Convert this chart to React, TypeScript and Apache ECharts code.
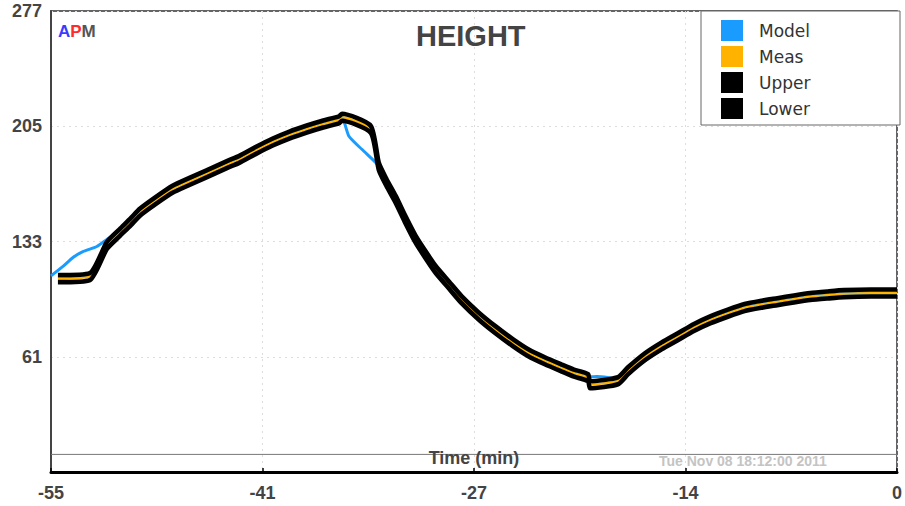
import React, { useEffect, useRef } from "react";
import * as echarts from "echarts";

// ---- data ----
const xTicks = [-55, -41, -27, -14, 0];
const yTicks = [-11, 61, 133, 205, 277];
const zeroLineTime = [-55, 0];
const zeroLineHeight = [0, 0];

const measTime = [
  -54.55, -52.47, -51.37, -50.53, -49.8, -49.23, -48.2, -47.1, -46.0, -44.89,
  -43.53, -42.76, -41.7, -40.62, -39.5, -38.42, -37.3, -36.28, -36.08, -34.21,
  -33.69, -33.2, -32.59, -31.95, -31.29, -30.6, -29.99, -29.1, -28.31, -27.2,
  -26.11, -25.0, -23.97, -22.9, -21.83, -21.0, -20.08, -19.95, -18.14, -17.49,
  -16.39, -15.3, -14.25, -13.2, -12.11, -11.0, -9.91, -8.8, -7.78, -6.7,
  -5.64, -4.5, -3.44, -1.7, 0,
];
const measHeight = [
  109.8, 111.1, 130.5, 138.6, 145.5, 151.2, 158.5, 165.6, 170.5, 175.2,
  181.2, 184.3, 189.8, 195.0, 199.5, 203.1, 206.4, 209.0, 210.6, 203.1,
  180.0, 170.0, 159.3, 146.5, 134.3, 124.0, 115.5, 105.5, 96.7, 86.5,
  77.9, 70.0, 63.5, 58.5, 54.1, 50.8, 47.9, 43.5, 46.0, 52.2,
  61.0, 67.8, 73.5, 79.3, 84.2, 88.2, 91.7, 93.8, 95.4, 97.1,
  98.6, 99.6, 100.4, 100.8, 100.8,
];
const upperHeight = [
  112.0, 113.3, 132.7, 140.8, 147.7, 153.4, 160.7, 167.8, 172.7, 177.4,
  183.4, 186.5, 192.0, 197.2, 201.7, 205.3, 208.6, 211.2, 212.8, 205.3,
  182.2, 172.2, 161.5, 148.7, 136.5, 126.2, 117.7, 107.7, 98.9, 88.7,
  80.1, 72.2, 65.7, 60.7, 56.3, 53.0, 50.1, 45.7, 48.2, 54.4,
  63.2, 70.0, 75.7, 81.5, 86.4, 90.4, 93.9, 96.0, 97.6, 99.3,
  100.8, 101.8, 102.6, 103.0, 103.0,
];
const lowerHeight = [
  107.6, 108.9, 128.3, 136.4, 143.3, 149.0, 156.3, 163.4, 168.3, 173.0,
  179.0, 182.1, 187.6, 192.8, 197.3, 200.9, 204.2, 206.8, 208.4, 200.9,
  177.8, 167.8, 157.1, 144.3, 132.1, 121.8, 113.3, 103.3, 94.5, 84.3,
  75.7, 67.8, 61.3, 56.3, 51.9, 48.6, 45.7, 41.3, 43.8, 50.0,
  58.8, 65.6, 71.3, 77.1, 82.0, 86.0, 89.5, 91.6, 93.2, 94.9,
  96.4, 97.4, 98.2, 98.6, 98.6,
];
const modelTime = [
  -55, -54.22, -53.57, -52.93, -52.02, -51.18, -50.53, -49.8, -49.23, -48.2,
  -47.1, -46.0, -44.89, -43.53, -42.76, -41.7, -40.62, -39.5, -38.42, -37.3,
  -36.28, -36.08, -35.63, -34.79, -33.88, -33.69, -33.2, -32.59, -31.95, -31.29,
  -30.6, -29.99, -29.1, -28.31, -27.2, -26.11, -25.0, -23.97, -22.9, -21.83,
  -21.0, -20.08, -19.5, -18.8, -18.14, -17.49, -16.39, -15.3, -14.25, -13.2,
  -12.11, -11.0, -9.91, -8.8, -7.78, -6.7, -5.64, -4.5, -3.44, -1.7, 0,
];
const modelHeight = [
  111.5, 117.4, 123.0, 126.7, 129.9, 135.5, 138.6, 145.5, 151.2, 158.5,
  165.6, 170.5, 175.2, 181.2, 184.3, 189.8, 195.0, 199.5, 203.1, 206.4,
  209.0, 210.6, 198.7, 190.6, 182.3, 180.0, 170.0, 159.3, 146.5, 134.3,
  124.0, 115.5, 105.5, 96.7, 86.5, 77.9, 70.0, 63.5, 58.5, 54.1,
  50.8, 48.5, 48.6, 48.0, 47.0, 50.5, 58.5, 65.5, 72.5, 79.0,
  84.2, 88.2, 91.7, 93.8, 95.4, 97.1, 98.6, 99.6, 100.4, 100.8, 100.8,
];

const seriesNames = ["Model", "Meas", "Upper", "Lower"];
const seriesColors = ["#1a9cff", "#ffb300", "#000000", "#000000"];

const zip = (xs: number[], ys: number[]) => xs.map((x, i) => [x, ys[i]]);

export default function App() {
  const ref = useRef<HTMLDivElement>(null);

  useEffect(() => {
    if (!ref.current) return;
    const chart = echarts.init(ref.current, undefined, { renderer: "svg" });
    const font = "'Liberation Sans', Arial, sans-serif";

    const lineSeries = (name: string, data: number[][], color: string, width: number, z: number, extra: any = {}) => ({
      name,
      type: "line",
      data,
      symbol: "none",
      showSymbol: false,
      smooth: 0.2,
      z,
      lineStyle: { color, width, join: "round", cap: "butt" },
      itemStyle: { color },
      ...extra,
    });

    chart.setOption({
      animation: false,
      backgroundColor: "#ffffff",
      title: {
        text: "HEIGHT",
        left: 416,
        top: 21,
        padding: 0,
        textStyle: { fontFamily: font, fontSize: 29, fontWeight: "bold", color: "#444444" },
      },
      grid: {
        left: 51,
        right: 5,
        top: 11,
        bottom: 34,
        show: true,
        borderColor: "#333333",
        borderWidth: 1.5,
      },
      legend: {
        orient: "vertical",
        left: 721,
        top: 20,
        padding: 0,
        z: 10,
        icon: "rect",
        itemWidth: 22,
        itemHeight: 21,
        itemGap: 5,
        itemStyle: { borderWidth: 0 },
        data: seriesNames,
        selectedMode: false,
        textStyle: {
          fontFamily: "'DejaVu Sans', Verdana, sans-serif",
          fontSize: 17,
          color: "#333333",
          padding: [0, 0, 0, 11],
        },
      },
      xAxis: {
        type: "value",
        min: -55,
        max: 0,
        interval: 13.75,
        axisLine: { show: true, onZero: false, lineStyle: { color: "#000000", width: 3 } },
        axisTick: { show: true, inside: true, length: 4, lineStyle: { color: "#000000", width: 1.5 } },
        axisLabel: {
          fontFamily: font,
          fontSize: 18,
          fontWeight: "bold",
          color: "#444444",
          margin: 12,
          formatter: (v: number) => {
            const r = Math.round(v);
            return xTicks.includes(r) ? String(r) : "";
          },
        },
        splitLine: { show: true, lineStyle: { color: "#dddddd", type: [2, 4], width: 1 } },
      },
      yAxis: {
        type: "value",
        min: -11,
        max: 277,
        interval: 72,
        axisLine: { show: true, onZero: false, lineStyle: { color: "#444444", width: 2 } },
        axisTick: { show: false },
        axisLabel: {
          fontFamily: font,
          fontSize: 18,
          fontWeight: "bold",
          color: "#444444",
          margin: 9,
          formatter: (v: number) => {
            const r = Math.round(v);
            return r === yTicks[0] ? "" : String(r);
          },
        },
        splitLine: { show: true, lineStyle: { color: "#dddddd", type: [2, 4], width: 1 } },
      },
      series: [
        {
          name: "Zero",
          type: "line",
          data: zip(zeroLineTime, zeroLineHeight),
          symbol: "none",
          silent: true,
          z: 1,
          lineStyle: { color: "#777777", width: 1 },
          itemStyle: { color: "#777777" },
        },
        lineSeries("Model", zip(modelTime, modelHeight), seriesColors[0], 3, 2),
        lineSeries("Meas", zip(measTime, measHeight), seriesColors[1], 2.2, 3),
        lineSeries("Upper", zip(measTime, upperHeight), seriesColors[2], 4.6, 4),
        lineSeries("Lower", zip(measTime, lowerHeight), seriesColors[3], 4.6, 4),
      ],
      graphic: [
        {
          type: "rect",
          z: 1,
          shape: { x: 701, y: 11, width: 199, height: 114 },
          style: { fill: "#ffffff", stroke: "#666666", lineWidth: 1 },
        },
        {
          type: "text",
          z: 20,
          x: 58,
          y: 31,
          style: {
            text: "{a|A}{p|P}{m|M}",
            verticalAlign: "middle",
            rich: {
              a: { fontFamily: font, fontSize: 17, fontWeight: "bold", fill: "#3b3bff" },
              p: { fontFamily: font, fontSize: 17, fontWeight: "bold", fill: "#ff2b2b" },
              m: { fontFamily: font, fontSize: 17, fontWeight: "bold", fill: "#555555" },
            },
          },
        },
        {
          type: "text",
          z: 20,
          x: 474,
          y: 458,
          style: {
            text: "Time (min)",
            align: "center",
            verticalAlign: "middle",
            font: `bold 18px ${font}`,
            fill: "#444444",
          },
        },
        {
          type: "text",
          z: 20,
          x: 659,
          y: 461,
          style: {
            text: "Tue Nov 08 18:12:00 2011",
            align: "left",
            verticalAlign: "middle",
            font: `bold 14px ${font}`,
            fill: "#c4c4c4",
          },
        },
      ],
    });

    return () => chart.dispose();
  }, []);

  return (
    <div
      ref={ref}
      style={{ position: "absolute", left: 0, top: 0, width: 905, height: 506, background: "#fff" }}
    />
  );
}
